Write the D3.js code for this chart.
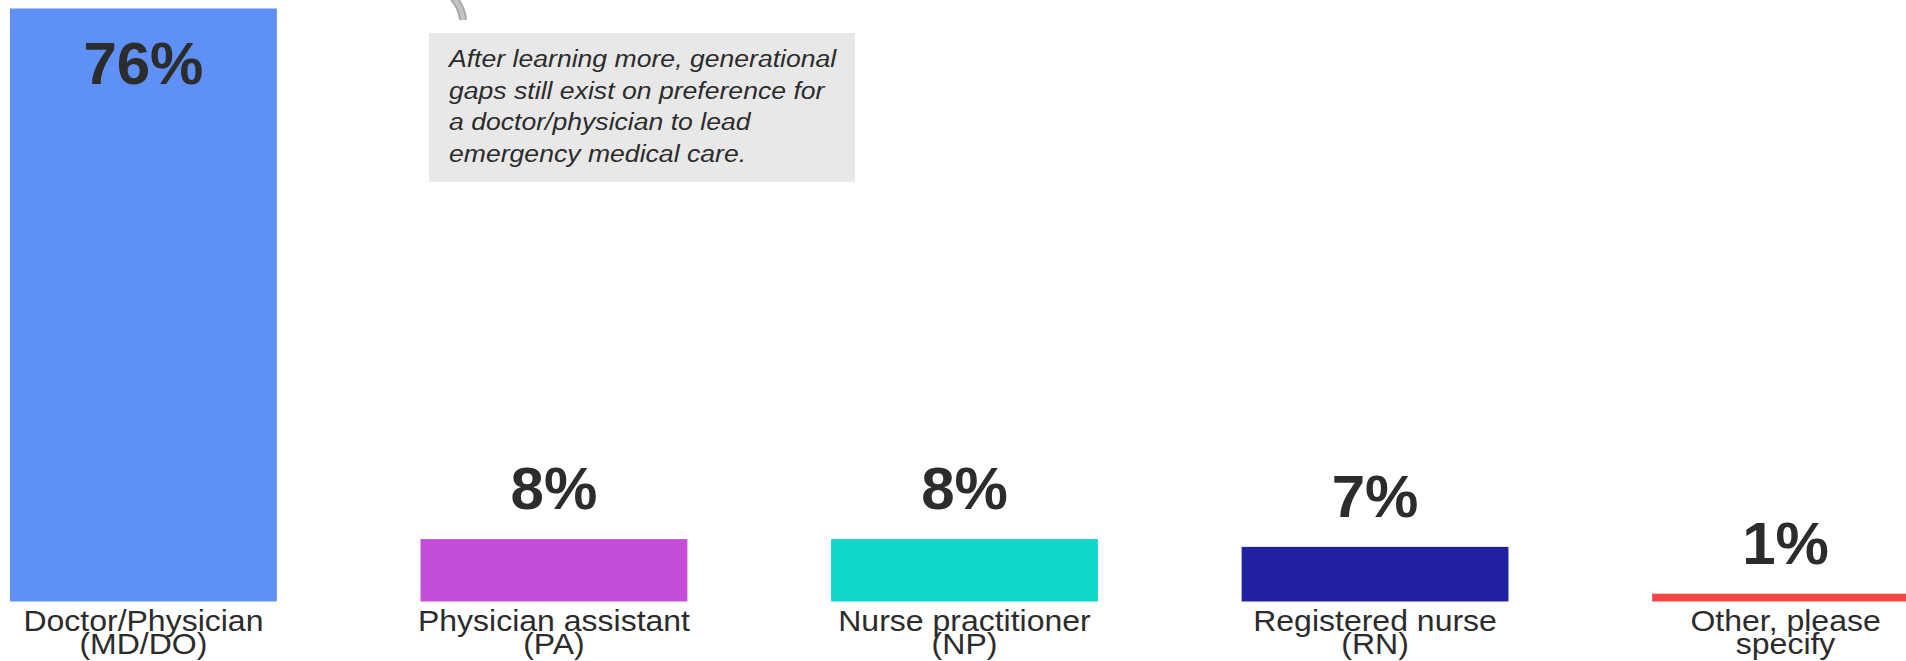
<!DOCTYPE html>
<html>
<head>
<meta charset="utf-8">
<script src="https://cdn.jsdelivr.net/npm/d3@7"></script>
<style>
  html, body { margin: 0; padding: 0; background: #fff; overflow: hidden; }
  svg { display: block; font-family: "Liberation Sans", Arial, sans-serif; }
</style>
</head>
<body>
<svg id="chart" width="1906" height="661"></svg>
<script>
// data
var categories = ['Doctor/Physician (MD/DO)', 'Physician assistant (PA)', 'Nurse practitioner (NP)', 'Registered nurse (RN)', 'Other, please specify'];
var labelLines = [['Doctor/Physician', '(MD/DO)'], ['Physician assistant', '(PA)'], ['Nurse practitioner', '(NP)'], ['Registered nurse', '(RN)'], ['Other, please', 'specify']];
var values = [76, 8, 8, 7, 1];
var colors = ['#5e90f5', '#c44ed8', '#0fd7cc', '#2121a2', '#f44545'];
var noteLines = ['After learning more, generational', 'gaps still exist on preference for', 'a doctor/physician to lead', 'emergency medical care.'];

var svg = d3.select('#chart');
var textColor = '#2c2c2c';

var rows = categories.map(function(c, i) {
  return {cat: c, value: values[i], color: colors[i], lines: labelLines[i]};
});

// chart runs a bit past the right edge, like the original
var x = d3.scaleBand()
  .domain(categories)
  .range([10, 1919])
  .paddingInner(0.35)
  .paddingOuter(0);

var y = d3.scaleLinear()
  .domain([0, 76])
  .range([601.5, 8.5]);

svg.selectAll('rect.bar')
  .data(rows)
  .enter()
  .append('rect')
  .attr('class', 'bar')
  .attr('x', function(d) { return x(d.cat); })
  .attr('width', x.bandwidth())
  .attr('y', function(d) { return y(d.value); })
  .attr('height', function(d) { return y(0) - y(d.value); })
  .attr('fill', function(d) { return d.color; });

// value labels, above the bar, pushed inside when there is no room
svg.selectAll('text.value')
  .data(rows)
  .enter()
  .append('text')
  .attr('class', 'value')
  .attr('x', function(d) { return x(d.cat) + x.bandwidth() / 2; })
  .attr('y', function(d) { return Math.max(y(d.value) - 30, 84); })
  .attr('text-anchor', 'middle')
  .attr('font-size', '60px')
  .attr('font-weight', 'bold')
  .attr('fill', textColor)
  .text(function(d) { return d.value + '%'; });

// category labels, two tight lines under each bar
var catLabel = svg.selectAll('g.cat')
  .data(rows)
  .enter()
  .append('g')
  .attr('class', 'cat')
  .attr('transform', function(d) {
    return 'translate(' + (x(d.cat) + x.bandwidth() / 2) + ',631) scale(1,0.9)';
  });

catLabel.selectAll('text')
  .data(function(d) { return d.lines; })
  .enter()
  .append('text')
  .attr('y', function(d, i) { return i * 26; })
  .attr('text-anchor', 'middle')
  .attr('font-size', '32px')
  .attr('fill', textColor)
  .text(function(d) { return d; });

// callout: bit of the curved arrow + grey note box
svg.append('path')
  .attr('d', 'M450,-6 Q462,6 463,20')
  .attr('fill', 'none')
  .attr('stroke', '#a8a8a8')
  .attr('stroke-width', 8);
svg.append('path')
  .attr('d', 'M450,-6 Q462,6 463,20')
  .attr('fill', 'none')
  .attr('stroke', '#c4c4c4')
  .attr('stroke-width', 4);

svg.append('rect')
  .attr('x', 429)
  .attr('y', 33)
  .attr('width', 426)
  .attr('height', 149)
  .attr('fill', '#e8e8e8');

var note = svg.append('g')
  .attr('transform', 'translate(449,67) scale(1,0.9)');

note.selectAll('text')
  .data(noteLines)
  .enter()
  .append('text')
  .attr('y', function(d, i) { return i * 35.1; })
  .attr('font-size', '26.6px')
  .attr('font-style', 'italic')
  .attr('fill', textColor)
  .text(function(d) { return d; });
</script>
</body>
</html>
